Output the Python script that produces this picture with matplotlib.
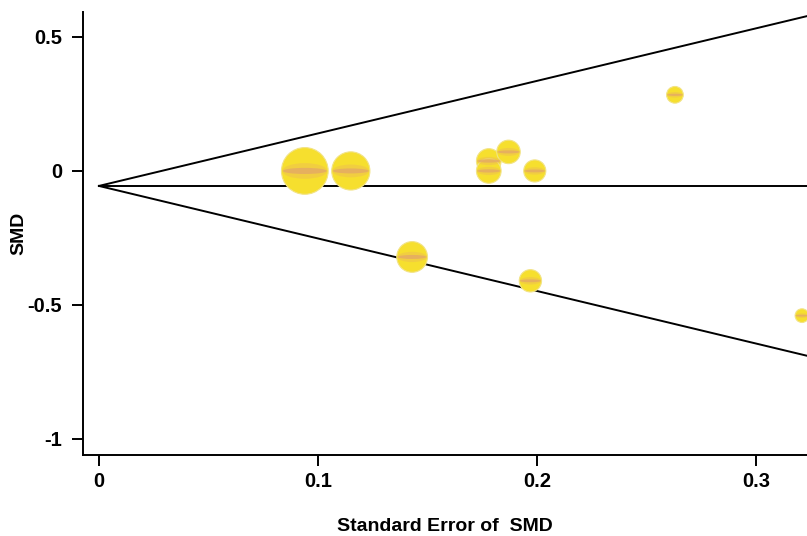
import numpy as np
import matplotlib.pyplot as plt
from matplotlib.path import Path
from matplotlib.transforms import Affine2D

# study data
se = np.array([0.094, 0.115, 0.143, 0.178, 0.178, 0.187, 0.199, 0.197, 0.263, 0.321])
smd = np.array([0.0, 0.0, -0.321, 0.037, 0.0, 0.071, 0.0, -0.41, 0.284, -0.54])
pooled = -0.056
xticks = [0, 0.1, 0.2, 0.3]
yticks = [0.5, 0, -0.5, -1]

plt.rcParams['font.family'] = ['Liberation Sans', 'DejaVu Sans']

fig = plt.figure(figsize=(8.07, 5.36), dpi=100)
ax = fig.add_axes([0.1028, 0.1511, 0.8972, 0.8265])

xmin, xmax = -0.0073, 0.3233
ax.set_xlim(xmin, xmax)
ax.set_ylim(-1.06, 0.593)

# pseudo 95% limits
xs = np.array([0, xmax])
ax.plot(xs, pooled + 1.96 * xs, color='black', lw=1.4, zorder=2)
ax.plot(xs, pooled - 1.96 * xs, color='black', lw=1.4, zorder=2)
ax.plot(xs, [pooled, pooled], color='black', lw=1.4, zorder=2)

# bubbles sized by inverse variance, with a "glassy" band
sizes = 10.0 / se ** 2
circ = Path.unit_circle()
band = Path(Affine2D().scale(1, 0.35).transform(circ.vertices), circ.codes)
thin = Path(Affine2D().scale(1, 0.14).transform(circ.vertices), circ.codes)
ax.scatter(se, smd, s=sizes, color='#f6df2e', edgecolor='#f2e386', lw=0.8,
           zorder=3, clip_on=False)
ax.scatter(se, smd, s=sizes * 0.92, marker=band, color='#eec14f', alpha=0.55,
           lw=0, zorder=4, clip_on=False)
ax.scatter(se, smd, s=sizes * 0.88, marker=thin, color='#e2a46c', alpha=0.7,
           lw=0, zorder=5, clip_on=False)

for s in ['top', 'right']:
    ax.spines[s].set_visible(False)
for s in ['left', 'bottom']:
    ax.spines[s].set_linewidth(1.4)

ax.set_xticks(xticks)
ax.set_xticklabels(['0', '0.1', '0.2', '0.3'])
ax.set_yticks(yticks)
ax.set_yticklabels(['0.5', '0', '-0.5', '-1'])
ax.tick_params(axis='both', direction='out', length=8, width=1.4, labelsize=14.5)
ax.tick_params(axis='y', pad=7)
ax.tick_params(axis='x', pad=4)
for lab in ax.get_xticklabels() + ax.get_yticklabels():
    lab.set_fontweight('bold')

ax.set_xlabel('Standard Error of  SMD', fontsize=14, fontweight='bold', labelpad=20)
ax.set_ylabel('SMD', fontsize=14, fontweight='bold', labelpad=0)

fig.savefig('out.png', dpi=100)
